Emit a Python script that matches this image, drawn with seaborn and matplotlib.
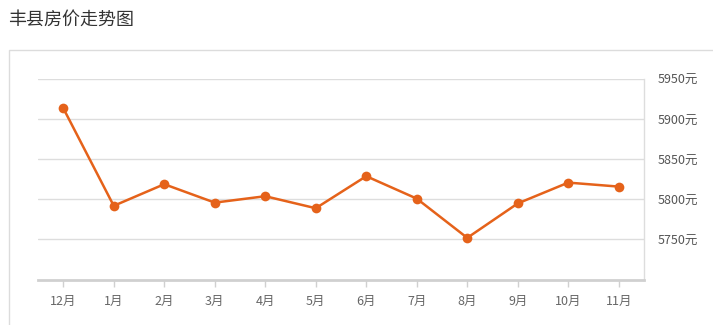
import matplotlib
matplotlib.use("Agg")
import matplotlib.pyplot as plt
from matplotlib.patches import Rectangle
import seaborn as sns
import pandas as pd

months = ["12月", "1月", "2月", "3月", "4月", "5月", "6月", "7月", "8月", "9月", "10月", "11月"]
prices = [5914, 5792, 5819, 5796, 5804, 5789, 5829, 5801, 5752, 5795, 5821, 5816]
y_ticks = [5750, 5800, 5850, 5900, 5950]
y_labels = [f"{v}元" for v in y_ticks]
title = "丰县房价走势图"

sns.set_theme(style="white")
plt.rcParams['font.family'] = ['Noto Sans CJK SC', 'DejaVu Sans']

W, H = 713, 325
fig = plt.figure(figsize=(W / 100, H / 100), dpi=100)
fig.patch.set_facecolor("white")

# card border
fig.patches.append(Rectangle((8.5 / W, -0.1), 1.2, 1 - 49.5 / H + 0.1,
                             transform=fig.transFigure, fill=False,
                             edgecolor="#dcdcdc", linewidth=1.0))
fig.text(8 / W, 1 - 20 / H, title, fontsize=13, color="#333333", va="center", ha="left")

ax = fig.add_axes([38 / W, 1 - 279.5 / H, (644 - 38) / W, (279.5 - 79.3) / H])
df = pd.DataFrame({"month": months, "price": prices})
df["pos"] = range(len(months))
color = "#E5621A"
sns.lineplot(data=df, x="pos", y="price", ax=ax, color=color, linewidth=1.8,
             marker="o", markersize=7, markeredgewidth=0, sort=False)

ax.set_xlim(-0.5, len(months) - 0.5)
ax.set_ylim(5700, 5950)
ax.set_xticks(range(len(months)))
ax.set_xticklabels(months)
ax.set_yticks(y_ticks)
ax.set_yticklabels(y_labels)
ax.yaxis.tick_right()
ax.set_xlabel("")
ax.set_ylabel("")

for v in y_ticks:
    ax.axhline(v, color="#dddddd", linewidth=1.0, zorder=0)

for s in ["left", "top"]:
    ax.spines[s].set_visible(False)
ax.spines["right"].set_color("#dddddd")
ax.spines["right"].set_linewidth(1.0)
ax.spines["bottom"].set_color("#d0d0d0")
ax.spines["bottom"].set_linewidth(2.0)

ax.tick_params(axis="x", which="both", bottom=True, length=5, width=1, color="#d0d0d0",
               labelsize=9, labelcolor="#666666", pad=6)
ax.tick_params(axis="y", which="both", right=False, left=False, length=0,
               labelsize=9, labelcolor="#555555", pad=10)

fig.savefig("out.png", dpi=100)
